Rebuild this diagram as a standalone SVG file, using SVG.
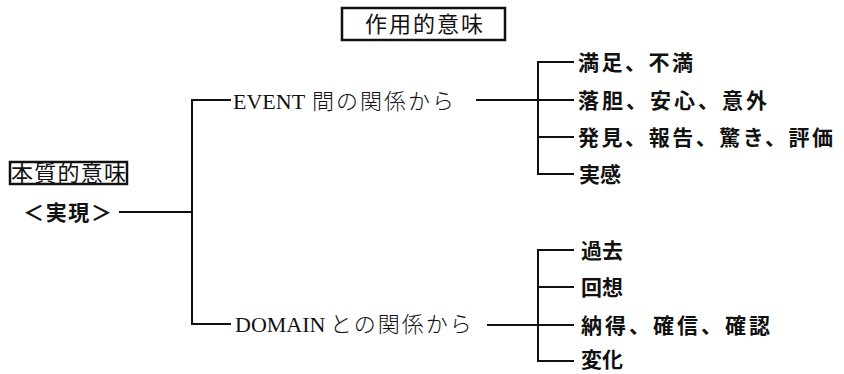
<svg xmlns="http://www.w3.org/2000/svg" width="844" height="374" viewBox="0 0 844 374">
<style>
.bg{fill:#fff}
.ln{fill:none;stroke:#111;stroke-width:2;stroke-linecap:square}
.frame{fill:none;stroke:#111;stroke-width:2.5}
.jp{font-family:"Noto Sans CJK JP","Noto Sans",sans-serif;fill:#111}
.item{font-family:"Noto Sans CJK JP","Noto Sans",sans-serif;font-size:21px;font-weight:bold;fill:#111}
.mix{font-family:"Liberation Serif","Noto Sans CJK JP",serif;font-size:22px;fill:#111}
.mixjp{font-family:"Noto Sans CJK JP",sans-serif;font-weight:300;letter-spacing:2px}
</style>
<rect class="bg" x="0" y="0" width="844" height="374"/>
<g id="connectors">
<path class="ln" d="M120 212 H192"/>
<path class="ln" d="M230 100 H192 V324 H230"/>
<path class="ln" d="M477 100 H573"/>
<path class="ln" d="M573 62 H538 V174 H573"/>
<path class="ln" d="M538 137 H573"/>
<path class="ln" d="M488 325 H573"/>
<path class="ln" d="M573 250 H538 V361 H573"/>
<path class="ln" d="M538 287 H573"/>
</g>
<g id="title">
<rect class="frame" x="342" y="8" width="163" height="32"/>
<text class="jp" x="365" y="32" font-size="22" textLength="118" lengthAdjust="spacing">作用的意味</text>
</g>
<g id="root">
<rect class="frame" x="10" y="162" width="117" height="22" stroke-width="2"/>
<text class="jp" x="11" y="181" font-size="22" textLength="115" lengthAdjust="spacing">本質的意味</text>
<text class="jp" x="23" y="220" font-size="21" font-weight="bold" textLength="89" lengthAdjust="spacing">＜実現＞</text>
</g>
<g id="event">
<text class="mix" x="233" y="109">EVENT <tspan class="mixjp" x="312">間の関係から</tspan></text>
</g>
<g id="domain">
<text class="mix" x="235" y="332">DOMAIN <tspan class="mixjp" x="330">との関係から</tspan></text>
</g>
<g id="e1"><text class="item" x="578" y="70" textLength="115" lengthAdjust="spacing">満足、不満</text></g>
<g id="e2"><text class="item" x="578" y="108" textLength="189" lengthAdjust="spacing">落胆、安心、意外</text></g>
<g id="e3"><text class="item" x="578" y="145" textLength="255" lengthAdjust="spacing">発見、報告、驚き、評価</text></g>
<g id="e4"><text class="item" x="579" y="182">実感</text></g>
<g id="d1"><text class="item" x="581" y="258">過去</text></g>
<g id="d2"><text class="item" x="581" y="295">回想</text></g>
<g id="d3"><text class="item" x="581" y="333" textLength="189" lengthAdjust="spacing">納得、確信、確認</text></g>
<g id="d4"><text class="item" x="581" y="367">変化</text></g>
</svg>
